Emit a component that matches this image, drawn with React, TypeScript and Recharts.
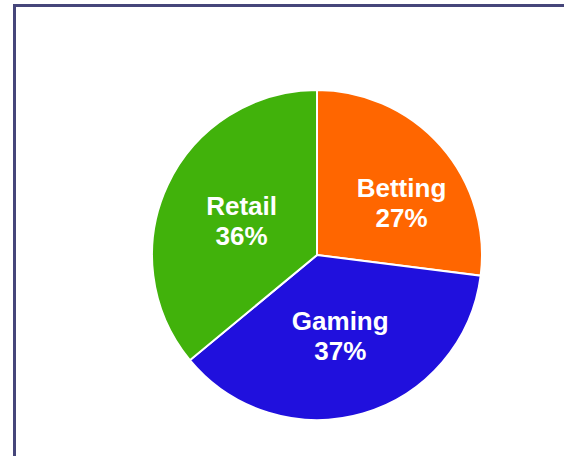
import React from "react";
import { PieChart, Pie, Cell } from "recharts";

const categories = ["Betting", "Gaming", "Retail"];
const shares = [27, 37, 36];
const colors = ["#FF6600", "#2010DD", "#41B20B"];

const data = categories.map((name, i) => ({ name, value: shares[i] }));

// Label nudges (layout only), keyed by category
const labelNudge: Record<string, { dx: number; dy: number }> = {
  Betting: { dx: 22, dy: 2 },
};

const RADIAN = Math.PI / 180;

const renderLabel = (props: any) => {
  const { cx, cy, midAngle, outerRadius, name, value } = props;
  const r = outerRadius * 0.505;
  const nudge = labelNudge[name] || { dx: 0, dy: 0 };
  const x = cx + r * Math.cos(-midAngle * RADIAN) + nudge.dx;
  const y = cy + r * Math.sin(-midAngle * RADIAN) + nudge.dy;
  return (
    <text
      x={x}
      y={y}
      fill="#ffffff"
      textAnchor="middle"
      fontFamily="'Liberation Sans', Arial, sans-serif"
      fontWeight="bold"
      fontSize={26}
    >
      <tspan x={x} y={y - 5}>{name}</tspan>
      <tspan x={x} y={y + 25}>{`${value}%`}</tspan>
    </text>
  );
};

export default function App() {
  return (
    <div
      style={{
        position: "fixed",
        left: 0,
        top: 0,
        width: 564,
        height: 456,
        overflow: "hidden",
        background: "#ffffff",
      }}
    >
      <div
        style={{
          position: "absolute",
          left: 13,
          top: 4,
          width: 640,
          height: 540,
          border: "3px solid #46467a",
          boxSizing: "border-box",
        }}
      />
      <div style={{ position: "absolute", left: 0, top: 0 }}>
        <PieChart width={564} height={456} margin={{ top: 0, right: 0, bottom: 0, left: 0 }}>
          <Pie
            data={data}
            dataKey="value"
            nameKey="name"
            cx={317}
            cy={255}
            outerRadius={165}
            startAngle={90}
            endAngle={-270}
            stroke="#ffffff"
            strokeWidth={2}
            labelLine={false}
            label={renderLabel}
            isAnimationActive={false}
          >
            {data.map((d, i) => (
              <Cell key={d.name} fill={colors[i]} />
            ))}
          </Pie>
        </PieChart>
      </div>
    </div>
  );
}
